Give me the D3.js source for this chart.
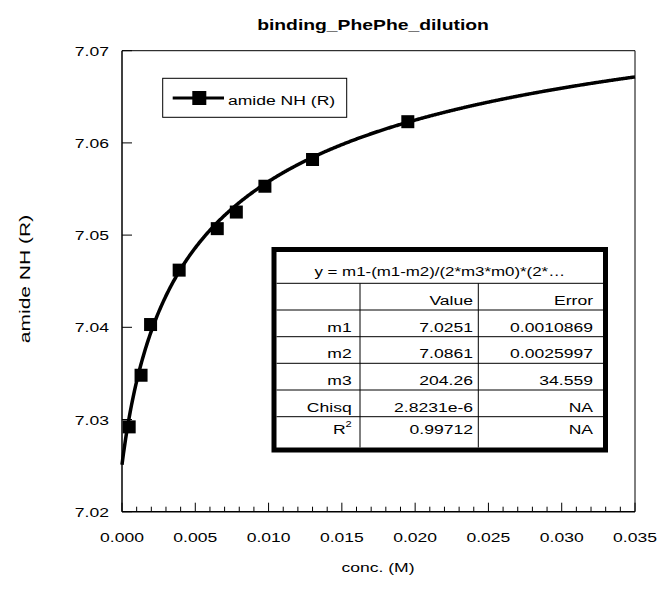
<!DOCTYPE html>
<html>
<head>
<meta charset="utf-8">
<script src="https://cdn.jsdelivr.net/npm/d3@7"></script>
<style>
  html, body { margin: 0; padding: 0; background: #fff; }
  svg { display: block; font-family: "Liberation Sans", Arial, sans-serif; }
</style>
</head>
<body>
<svg id="chart" width="659" height="589"></svg>
<script>
// Measured chemical shift of the amide NH (R) against concentration
const concentration = [0.00049, 0.0013, 0.00195, 0.0039, 0.0065, 0.0078, 0.00975, 0.013, 0.0195];
const shift = [7.0292, 7.0348, 7.0403, 7.0462, 7.0507, 7.0525, 7.0553, 7.0582, 7.0623];

// Fitted parameters of the dimerisation model
const paramNames = ["m1", "m2", "m3", "Chisq", "R2"];
const paramValues = ["7.0251", "7.0861", "204.26", "2.8231e-6", "0.99712"];
const paramErrors = ["0.0010869", "0.0025997", "34.559", "NA", "NA"];
const m1 = 7.0251, m2 = 7.0861, m3 = 204.26;

const xTicks = [0, 0.005, 0.01, 0.015, 0.02, 0.025, 0.03, 0.035];
const yTicks = [7.02, 7.03, 7.04, 7.05, 7.06, 7.07];

const svg = d3.select("#chart");
const x = d3.scaleLinear().domain([0, 0.035]).range([122, 635]);
const y = d3.scaleLinear().domain([7.02, 7.07]).range([511.7, 50.7]);
const SX = 1.3; // glyphs are drawn wide

function label(g, tx, ty, str, opts = {}) {
  const t = g.append("text")
    .attr("transform", `translate(${tx},${ty})${opts.rotate ? ` rotate(${opts.rotate})` : ""} scale(${opts.sx || SX},1)`)
    .attr("text-anchor", opts.anchor || "start")
    .attr("font-size", opts.size || 13.5)
    .attr("font-weight", opts.bold ? "bold" : "normal")
    .attr("fill", "#000")
    .text(str);
  return t;
}

// Frame
svg.append("line").attr("x1", x(0)).attr("x2", x(0.035)).attr("y1", y(7.07)).attr("y2", y(7.07))
  .attr("stroke", "#000").attr("stroke-width", 1);
svg.append("line").attr("x1", x(0.035)).attr("x2", x(0.035)).attr("y1", y(7.07)).attr("y2", y(7.02))
  .attr("stroke", "#000").attr("stroke-width", 1);

// Bottom axis with inward major and minor ticks
const gx = svg.append("g");
gx.append("line").attr("x1", x(0)).attr("x2", x(0.035)).attr("y1", y(7.02)).attr("y2", y(7.02))
  .attr("stroke", "#000").attr("stroke-width", 1.5);
const minorX = d3.range(0, 36).map(i => i * 0.001);
gx.selectAll("line.minor").data(minorX).join("line").attr("class", "minor")
  .attr("x1", d => x(d)).attr("x2", d => x(d))
  .attr("y1", y(7.02)).attr("y2", d => y(7.02) - (Math.round(d * 1000) % 5 === 0 ? 9 : 5))
  .attr("stroke", "#000").attr("stroke-width", 1);
xTicks.forEach(t => label(gx, x(t), 542, d3.format(".3f")(t), { anchor: "middle" }));

// Left axis with inward ticks
const gy = svg.append("g");
gy.append("line").attr("x1", x(0)).attr("x2", x(0)).attr("y1", y(7.02)).attr("y2", y(7.07))
  .attr("stroke", "#000").attr("stroke-width", 1.5);
gy.selectAll("line.tick").data(yTicks).join("line").attr("class", "tick")
  .attr("x1", x(0)).attr("x2", x(0) + 10).attr("y1", d => y(d)).attr("y2", d => y(d))
  .attr("stroke", "#000").attr("stroke-width", 1);
yTicks.forEach(t => label(gy, 109, y(t) + 5, d3.format(".2f")(t), { anchor: "end" }));

// Titles
label(svg, 373, 30, "binding_PhePhe_dilution", { anchor: "middle", bold: true, size: 14, sx: 1.38 });
label(svg, 378, 572, "conc. (M)", { anchor: "middle", size: 13.5 });
label(svg, 30, 279, "amide NH (R)", { anchor: "middle", size: 14.5, rotate: -90, sx: 1.45 });

// Fitted curve
function model(c) {
  const k = m3 * c;
  if (k < 1e-9) return m1;
  return m1 - (m1 - m2) / (2 * k) * (2 * k + 1 - Math.sqrt(4 * k + 1));
}
const curveX = d3.range(0, 0.03501, 0.00005);
svg.append("path")
  .datum(curveX)
  .attr("d", d3.line().x(d => x(d)).y(d => y(model(d))))
  .attr("fill", "none").attr("stroke", "#000").attr("stroke-width", 3.5);

// Data points
const pts = concentration.map((c, i) => ({ c, v: shift[i] }));
svg.selectAll("rect.pt").data(pts).join("rect").attr("class", "pt")
  .attr("x", d => x(d.c) - 6.5).attr("y", d => y(d.v) - 6.5)
  .attr("width", 13).attr("height", 13).attr("fill", "#000");

// Legend
const lg = svg.append("g");
lg.append("rect").attr("x", 162.7).attr("y", 78.3).attr("width", 184).attr("height", 39)
  .attr("fill", "#fff").attr("stroke", "#000").attr("stroke-width", 1);
lg.append("line").attr("x1", 172.7).attr("x2", 224).attr("y1", 98).attr("y2", 98)
  .attr("stroke", "#000").attr("stroke-width", 3);
lg.append("rect").attr("x", 199.3 - 7).attr("y", 98 - 7).attr("width", 14).attr("height", 14).attr("fill", "#000");
label(lg, 228, 105, "amide NH (R)");

// Parameter table
const tb = svg.append("g");
const tL = 276.5, tR = 603, tT = 252, tB = 447.5;
const rowLines = [283.3, 310, 336.7, 363.3, 390, 416.7];
const colLines = [360, 478.3];
tb.append("rect").attr("x", tL).attr("y", tT).attr("width", tR - tL).attr("height", tB - tT).attr("fill", "#fff");
tb.selectAll("line.row").data(rowLines).join("line").attr("class", "row")
  .attr("x1", tL).attr("x2", tR).attr("y1", d => d).attr("y2", d => d)
  .attr("stroke", "#000").attr("stroke-width", 1);
tb.selectAll("line.col").data(colLines).join("line").attr("class", "col")
  .attr("x1", d => d).attr("x2", d => d).attr("y1", rowLines[0]).attr("y2", tB)
  .attr("stroke", "#000").attr("stroke-width", 1);
tb.append("rect").attr("x", tL - 2.5).attr("y", tT - 2.5).attr("width", tR - tL + 5).attr("height", tB - tT + 5)
  .attr("fill", "none").attr("stroke", "#000").attr("stroke-width", 5);

label(tb, (tL + tR) / 2, 276, "y = m1-(m1-m2)/(2*m3*m0)*(2*…", { anchor: "middle", sx: 1.25 });
label(tb, 473, 305, "Value", { anchor: "end" });
label(tb, 593, 305, "Error", { anchor: "end" });
const baselines = [331.7, 358.3, 385, 411.7, 434];
paramNames.forEach((n, i) => {
  if (n === "R2") {
    const t = label(tb, 351.7, baselines[i], "R", { anchor: "end" });
    t.append("tspan").attr("dy", -7).attr("font-size", 8.5).text("2");
  } else {
    label(tb, 351.7, baselines[i], n, { anchor: "end" });
  }
  label(tb, 473, baselines[i], paramValues[i], { anchor: "end" });
  label(tb, 593, baselines[i], paramErrors[i], { anchor: "end" });
});
</script>
</body>
</html>
